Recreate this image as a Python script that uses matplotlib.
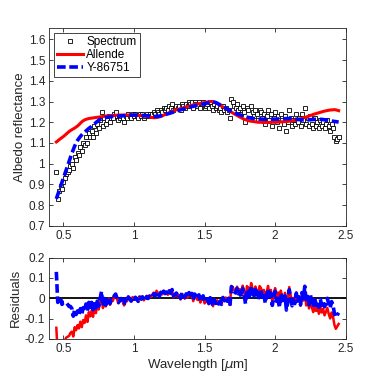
import matplotlib
matplotlib.use("Agg")
import matplotlib.pyplot as plt
from matplotlib.ticker import FuncFormatter
import numpy as np

plt.rcParams['font.family'] = ['Liberation Sans', 'DejaVu Sans']
plt.rcParams['font.size'] = 8.5

# wavelength grid [um]
wl = [0.45, 0.46, 0.47, 0.48, 0.49, 0.50, 0.51, 0.52, 0.53, 0.54,
      0.55, 0.56, 0.57, 0.58, 0.59, 0.60, 0.61, 0.62, 0.63, 0.64,
      0.65, 0.66, 0.67, 0.68, 0.69, 0.70, 0.71, 0.72, 0.73, 0.74,
      0.75, 0.76, 0.77, 0.78, 0.79, 0.80, 0.81, 0.82, 0.83, 0.84,
      0.85, 0.86, 0.87, 0.88, 0.89, 0.90, 0.91, 0.92, 0.93, 0.94,
      0.95, 0.96, 0.97, 0.98, 0.99, 1.00, 1.01, 1.02, 1.03, 1.04,
      1.05, 1.06, 1.07, 1.08, 1.09, 1.10, 1.11, 1.12, 1.13, 1.14,
      1.15, 1.16, 1.17, 1.18, 1.19, 1.20, 1.21, 1.22, 1.23, 1.24,
      1.25, 1.26, 1.27, 1.28, 1.29, 1.30, 1.31, 1.32, 1.33, 1.34,
      1.35, 1.36, 1.37, 1.38, 1.39, 1.40, 1.41, 1.42, 1.43, 1.44,
      1.45, 1.46, 1.47, 1.48, 1.49, 1.50, 1.51, 1.52, 1.53, 1.54,
      1.55, 1.56, 1.57, 1.58, 1.59, 1.60, 1.61, 1.62, 1.63, 1.64,
      1.65, 1.66, 1.67, 1.68, 1.69, 1.70, 1.71, 1.72, 1.73, 1.74,
      1.75, 1.76, 1.77, 1.78, 1.79, 1.80, 1.81, 1.82, 1.83, 1.84,
      1.85, 1.86, 1.87, 1.88, 1.89, 1.90, 1.91, 1.92, 1.93, 1.94,
      1.95, 1.96, 1.97, 1.98, 1.99, 2.00, 2.01, 2.02, 2.03, 2.04,
      2.05, 2.06, 2.07, 2.08, 2.09, 2.10, 2.11, 2.12, 2.13, 2.14,
      2.15, 2.16, 2.17, 2.18, 2.19, 2.20, 2.21, 2.22, 2.23, 2.24,
      2.25, 2.26, 2.27, 2.28, 2.29, 2.30, 2.31, 2.32, 2.33, 2.34,
      2.35, 2.36, 2.37, 2.38, 2.39, 2.40, 2.41, 2.42, 2.43, 2.44, 2.45]

# observed spectrum
spectrum = [0.96, 0.83, 0.87, 0.89, 0.88, 0.91, 0.93, 0.95, 0.96, 0.97,
            0.99, 1.00, 0.98, 1.03, 1.02, 1.05, 1.04, 1.08, 1.06, 1.10,
            1.09, 1.13, 1.10, 1.15, 1.13, 1.16, 1.13, 1.18, 1.15, 1.19,
            1.17, 1.21, 1.25, 1.18, 1.22, 1.19, 1.21, 1.23, 1.20, 1.22,
            1.22, 1.24, 1.25, 1.23, 1.21, 1.22, 1.23, 1.22, 1.20, 1.23,
            1.22, 1.24, 1.23, 1.22, 1.24, 1.23, 1.24, 1.23, 1.22, 1.24,
            1.23, 1.24, 1.22, 1.23, 1.24, 1.23, 1.24, 1.23, 1.24, 1.25,
            1.24, 1.26, 1.25, 1.24, 1.26, 1.25, 1.27, 1.26, 1.27, 1.26,
            1.28, 1.27, 1.29, 1.26, 1.27, 1.28, 1.27, 1.28, 1.26, 1.29,
            1.28, 1.27, 1.29, 1.28, 1.30, 1.29, 1.30, 1.27, 1.30, 1.29,
            1.28, 1.30, 1.27, 1.29, 1.30, 1.27, 1.28, 1.29, 1.27, 1.30,
            1.28, 1.26, 1.29, 1.27, 1.28, 1.26, 1.27, 1.25, 1.28, 1.26,
            1.27, 1.25, 1.26, 1.22, 1.31, 1.30, 1.28, 1.27, 1.29, 1.26,
            1.27, 1.24, 1.28, 1.25, 1.20, 1.27, 1.26, 1.22, 1.28, 1.25,
            1.23, 1.26, 1.24, 1.21, 1.26, 1.25, 1.22, 1.24, 1.19, 1.23,
            1.26, 1.21, 1.24, 1.18, 1.22, 1.25, 1.20, 1.23, 1.17, 1.24,
            1.21, 1.19, 1.23, 1.16, 1.20, 1.26, 1.22, 1.18, 1.21, 1.19,
            1.24, 1.20, 1.22, 1.18, 1.24, 1.21, 1.27, 1.19, 1.22, 1.18,
            1.23, 1.19, 1.17, 1.22, 1.18, 1.20, 1.17, 1.21, 1.18, 1.20,
            1.17, 1.19, 1.21, 1.18, 1.16, 1.19, 1.17, 1.13, 1.11, 1.12, 1.13]

# Allende meteorite fit
allende = [1.105, 1.110, 1.116, 1.121, 1.126, 1.131, 1.137, 1.143, 1.149, 1.155,
           1.160, 1.164, 1.168, 1.172, 1.177, 1.182, 1.188, 1.195, 1.202, 1.207,
           1.211, 1.214, 1.216, 1.218, 1.219, 1.220, 1.221, 1.222, 1.223, 1.224,
           1.225, 1.226, 1.227, 1.228, 1.229, 1.230, 1.231, 1.231, 1.232, 1.232,
           1.233, 1.233, 1.234, 1.234, 1.235, 1.235, 1.235, 1.235, 1.235, 1.235,
           1.235, 1.235, 1.235, 1.234, 1.234, 1.234, 1.234, 1.233, 1.233, 1.232,
           1.232, 1.231, 1.230, 1.229, 1.228, 1.227, 1.225, 1.224, 1.223, 1.222,
           1.222, 1.223, 1.224, 1.226, 1.228, 1.231, 1.234, 1.237, 1.240, 1.243,
           1.246, 1.249, 1.252, 1.255, 1.258, 1.260, 1.262, 1.264, 1.266, 1.268,
           1.270, 1.272, 1.274, 1.276, 1.278, 1.280, 1.282, 1.284, 1.285, 1.287,
           1.288, 1.290, 1.291, 1.293, 1.294, 1.295, 1.297, 1.298, 1.299, 1.300,
           1.300, 1.299, 1.297, 1.294, 1.290, 1.286, 1.282, 1.278, 1.274, 1.270,
           1.266, 1.262, 1.258, 1.253, 1.249, 1.245, 1.241, 1.237, 1.233, 1.229,
           1.225, 1.222, 1.218, 1.215, 1.212, 1.210, 1.208, 1.206, 1.205, 1.204,
           1.203, 1.202, 1.201, 1.200, 1.200, 1.200, 1.199, 1.199, 1.199, 1.199,
           1.199, 1.199, 1.199, 1.200, 1.200, 1.200, 1.200, 1.201, 1.201, 1.202,
           1.202, 1.203, 1.203, 1.204, 1.204, 1.205, 1.206, 1.207, 1.208, 1.209,
           1.211, 1.213, 1.215, 1.217, 1.219, 1.221, 1.223, 1.225, 1.228, 1.230,
           1.233, 1.235, 1.238, 1.240, 1.242, 1.244, 1.246, 1.248, 1.250, 1.252,
           1.254, 1.255, 1.257, 1.258, 1.259, 1.260, 1.260, 1.261, 1.260, 1.258, 1.256]

# Y-86751 meteorite fit
y86751 = [0.830, 0.850, 0.870, 0.890, 0.910, 0.930, 0.950, 0.970, 0.990, 1.010,
          1.030, 1.050, 1.068, 1.085, 1.100, 1.112, 1.122, 1.131, 1.139, 1.146,
          1.152, 1.158, 1.164, 1.170, 1.175, 1.180, 1.186, 1.192, 1.198, 1.204,
          1.209, 1.213, 1.216, 1.219, 1.221, 1.223, 1.224, 1.225, 1.226, 1.227,
          1.228, 1.228, 1.229, 1.229, 1.230, 1.230, 1.231, 1.231, 1.232, 1.232,
          1.233, 1.233, 1.234, 1.234, 1.234, 1.235, 1.235, 1.235, 1.235, 1.234,
          1.234, 1.233, 1.233, 1.232, 1.232, 1.231, 1.230, 1.229, 1.228, 1.228,
          1.228, 1.228, 1.229, 1.230, 1.231, 1.233, 1.235, 1.237, 1.239, 1.241,
          1.243, 1.245, 1.247, 1.249, 1.251, 1.254, 1.256, 1.258, 1.260, 1.262,
          1.264, 1.266, 1.268, 1.270, 1.272, 1.274, 1.276, 1.277, 1.279, 1.280,
          1.282, 1.283, 1.285, 1.286, 1.288, 1.289, 1.291, 1.293, 1.295, 1.297,
          1.298, 1.298, 1.297, 1.295, 1.292, 1.288, 1.284, 1.280, 1.276, 1.272,
          1.268, 1.264, 1.260, 1.257, 1.253, 1.250, 1.247, 1.244, 1.241, 1.238,
          1.236, 1.233, 1.231, 1.229, 1.227, 1.225, 1.223, 1.222, 1.220, 1.219,
          1.218, 1.217, 1.216, 1.216, 1.215, 1.215, 1.215, 1.214, 1.214, 1.214,
          1.214, 1.214, 1.214, 1.215, 1.215, 1.215, 1.215, 1.216, 1.216, 1.216,
          1.217, 1.217, 1.217, 1.218, 1.218, 1.218, 1.218, 1.217, 1.217, 1.216,
          1.215, 1.214, 1.213, 1.212, 1.212, 1.211, 1.211, 1.211, 1.211, 1.212,
          1.212, 1.213, 1.213, 1.214, 1.214, 1.215, 1.215, 1.214, 1.214, 1.213,
          1.212, 1.211, 1.210, 1.209, 1.208, 1.206, 1.205, 1.204, 1.203, 1.202, 1.201]

wl = np.array(wl)
spectrum = np.array(spectrum)
allende = np.array(allende)
y86751 = np.array(y86751)

res_allende = spectrum - allende
res_y86751 = spectrum - y86751

gray = '#262626'
fmt = FuncFormatter(lambda v, p: '%g' % round(v, 2))


def style(ax):
    for s in ax.spines.values():
        s.set_color(gray)
        s.set_linewidth(0.6)
    ax.tick_params(direction='in', top=True, right=True, length=3,
                   width=0.6, colors=gray, labelsize=8.5, pad=3)
    ax.xaxis.set_major_formatter(fmt)
    ax.yaxis.set_major_formatter(fmt)


fig = plt.figure(figsize=(3.82, 3.82), dpi=100)
ax1 = fig.add_axes([0.129, 0.409, 0.776, 0.5175])
ax2 = fig.add_axes([0.129, 0.1126, 0.776, 0.213])

# top panel
ax1.plot(wl, spectrum, 's', ms=2.6, mfc='white', mec='black', mew=0.6,
         label='Spectrum')
ax1.plot(wl, allende, color='red', lw=2.2, label='Allende')
ax1.plot(wl, y86751, color='blue', lw=2.6, dashes=(2.4, 1.0), label='Y-86751')
ax1.set_xlim(0.4, 2.5)
ax1.set_ylim(0.7, 1.655)
ax1.set_xticks([0.5, 1, 1.5, 2, 2.5])
ax1.set_yticks(np.round(np.arange(0.7, 1.61, 0.1), 1))
ax1.set_ylabel('Albedo reflectance', color=gray, fontsize=9.5, labelpad=2)
style(ax1)
leg = ax1.legend(loc='upper left', fancybox=False, framealpha=1,
                 edgecolor=gray, fontsize=8.5, handlelength=2.2,
                 handletextpad=0.3, borderpad=0.25, labelspacing=0.1,
                 borderaxespad=0.4)
leg.get_frame().set_linewidth(0.6)

# bottom panel
ax2.axhline(0, color='black', lw=1.3)
ax2.plot(wl, res_allende, color='red', lw=1.8)
ax2.plot(wl, res_y86751, color='blue', lw=2.6, dashes=(2.4, 1.0))
ax2.set_xlim(0.4, 2.5)
ax2.set_ylim(-0.2, 0.2)
ax2.set_xticks([0.5, 1, 1.5, 2, 2.5])
ax2.set_yticks([-0.2, -0.1, 0, 0.1, 0.2])
ax2.set_xlabel(r'Wavelength [$\mu$m]', color=gray, fontsize=9.5, labelpad=1)
ax2.set_ylabel('Residuals', color=gray, fontsize=9.5, labelpad=2)
style(ax2)

fig.savefig('out.png', dpi=100)
